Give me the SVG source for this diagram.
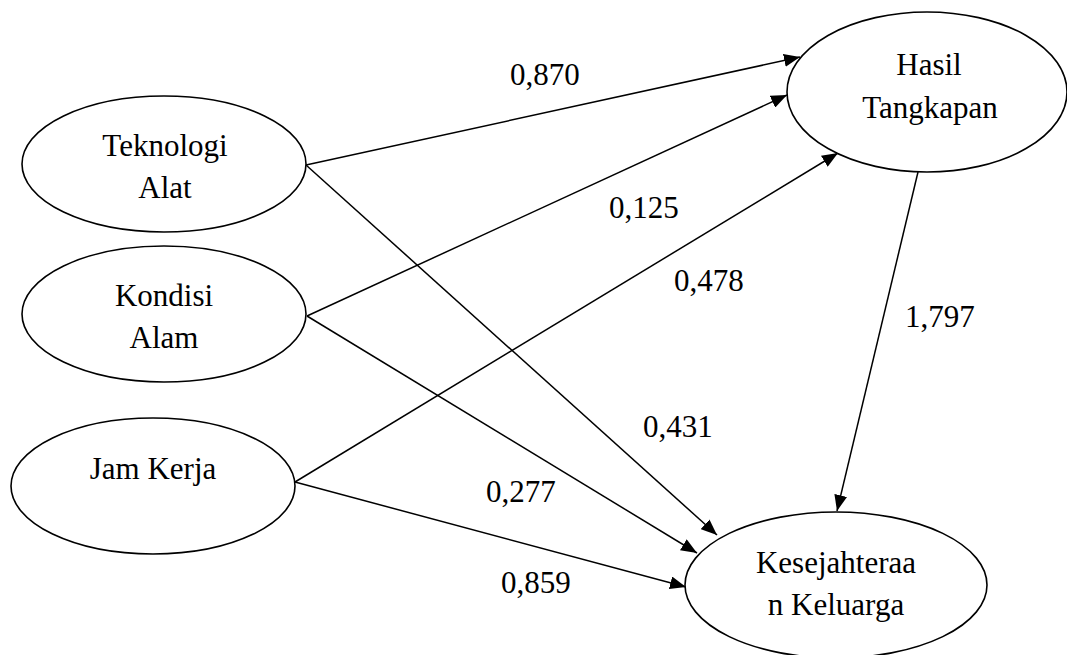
<svg xmlns="http://www.w3.org/2000/svg" width="1067" height="655" viewBox="0 0 1067 655">
<style>
.n{fill:#fff;stroke:#000;stroke-width:1.6}
.t{font-family:"Liberation Serif","Times New Roman",serif;font-size:31px;fill:#000}
.m{text-anchor:middle}
.c line{stroke:#000;stroke-width:1.5;marker-end:url(#a)}
</style>
<defs>
<marker id="a" markerUnits="userSpaceOnUse" markerWidth="17" markerHeight="13" refX="16" refY="6.5" orient="auto">
<path d="M0,0 L16,6.5 L0,13 z" fill="#000"/>
</marker>
</defs>
<rect width="1067" height="655" fill="#fff"/>
<g class="c" id="connectors">
<line x1="306" y1="165" x2="800" y2="57"/>
<line x1="306" y1="165" x2="717" y2="535"/>
<line x1="307" y1="316" x2="787" y2="95"/>
<line x1="307" y1="316" x2="697" y2="553"/>
<line x1="295" y1="482" x2="838" y2="153"/>
<line x1="295" y1="482" x2="686" y2="587"/>
<line x1="918" y1="172" x2="837" y2="511"/>
</g>
<g id="labels" class="t">
<text x="510" y="85">0,870</text>
<text x="609" y="218">0,125</text>
<text x="674" y="291">0,478</text>
<text x="643" y="437">0,431</text>
<text x="486" y="502">0,277</text>
<text x="501" y="593">0,859</text>
<text x="905" y="327">1,797</text>
</g>
<g id="teknologi">
<ellipse class="n" cx="164" cy="164" rx="142" ry="68"/>
<text class="t m" x="165" y="156">Teknologi</text>
<text class="t m" x="165" y="198">Alat</text>
</g>
<g id="kondisi">
<ellipse class="n" cx="164" cy="314" rx="142" ry="68"/>
<text class="t m" x="164" y="306">Kondisi</text>
<text class="t m" x="164" y="348">Alam</text>
</g>
<g id="jamkerja">
<ellipse class="n" cx="153" cy="486" rx="142" ry="68"/>
<text class="t m" x="153" y="479">Jam Kerja</text>
</g>
<g id="hasil">
<ellipse class="n" cx="927" cy="92" rx="140" ry="80"/>
<text class="t m" x="929" y="75">Hasil</text>
<text class="t m" x="930" y="118">Tangkapan</text>
</g>
<g id="kesejahteraan">
<ellipse class="n" cx="836" cy="585" rx="151" ry="73"/>
<text class="t m" x="836" y="573">Kesejahteraa</text>
<text class="t m" x="836" y="615">n Keluarga</text>
</g>
</svg>
